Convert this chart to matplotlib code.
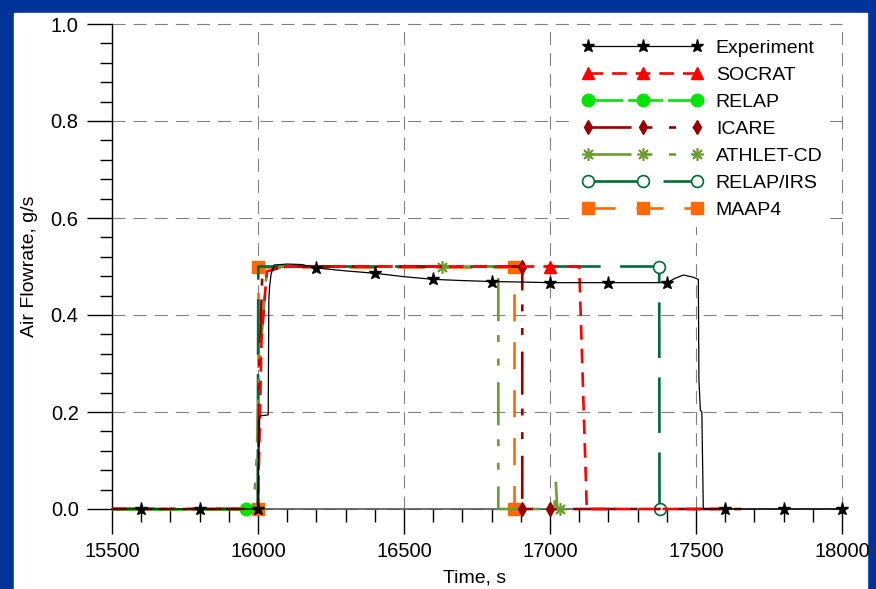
import matplotlib
matplotlib.use("Agg")
import matplotlib.pyplot as plt
from matplotlib.lines import Line2D
from matplotlib.patches import Rectangle

plt.rcParams['font.family'] = ['Liberation Sans', 'DejaVu Sans']
plt.rcParams['font.size'] = 14
plt.rcParams['lines.scale_dashes'] = False

# Experiment (black line, star every 200 s)
exp_t = [15500, 15600, 15800, 16000, 16004, 16006, 16035, 16037, 16040, 16045, 16055,
         16100, 16150, 16200, 16300, 16400, 16500, 16600, 16700, 16800, 16900, 17000,
         17100, 17200, 17300, 17400, 17430, 17457, 17490, 17508, 17510, 17515, 17520,
         17525, 17600, 17800, 18000]
exp_y = [0, 0, 0, 0, 0.19, 0.192, 0.194, 0.43, 0.46, 0.485, 0.503,
         0.505, 0.504, 0.497, 0.491, 0.486, 0.479, 0.4735, 0.471, 0.469, 0.468, 0.4667,
         0.4667, 0.4667, 0.4667, 0.4667, 0.476, 0.4825, 0.478, 0.4735, 0.266, 0.204, 0.2,
         0, 0, 0, 0]
exp_marks = [1, 2, 3, 13, 15, 17, 19, 21, 23, 25, 34, 35, 36]

# SOCRAT
soc_t = [15500, 16000, 16012, 16030, 16100, 17000, 17100, 17126, 17590]
soc_y = [0, 0, 0.35, 0.49, 0.5, 0.5, 0.5, 0, 0]
soc_marks = [5]

# RELAP
rel_t = [15500, 15958]
rel_y = [0, 0]
rel_marks = [1]

# ICARE
ica_t = [15500, 16000, 16005, 16015, 16100, 16905, 16905, 17000, 17690]
ica_y = [0, 0, 0.3, 0.49, 0.5, 0.5, 0, 0, 0]
ica_marks = [5, 6, 7]

# ATHLET-CD
ath_t = [15500, 15985, 15995, 16005, 16030, 16045, 16630, 16823, 16823, 17015, 17020,
         17025, 17034]
ath_y = [0, 0, 0.1, 0.3, 0.49, 0.5, 0.5, 0.5, 0, 0, 0.054, 0, 0]
ath_marks = [6, 12]

# RELAP/IRS
irs_t = [15500, 15999, 16001, 17374, 17375]
irs_y = [0, 0, 0.5, 0.5, 0]
irs_marks = [3, 4]

# MAAP4
maap_t = [15500, 16000, 16000, 16875, 16875]
maap_y = [0, 0, 0.5, 0.5, 0]
maap_marks = [1, 2, 3, 4]

fig = plt.figure(figsize=(8.76, 5.89), dpi=100, facecolor='#003399')
# white slide panel behind the chart
fig.patches.append(Rectangle((14 / 876, 0), (867 - 14) / 876, (589 - 13) / 589,
                             transform=fig.transFigure, color='white', zorder=-1))
ax = fig.add_axes([112 / 876, 80 / 589, 730 / 876, 485 / 589])
ax.set_facecolor('white')

styles = [
    ("Experiment", exp_t, exp_y, exp_marks,
     dict(color='black', lw=0.9, linestyle='-', marker='*', ms=9.5, mfc='black', mec='black'), 10),
    ("SOCRAT", soc_t, soc_y, soc_marks,
     dict(color='#FF0000', lw=1.9, linestyle=(0, (10.5, 6.5)), marker='^', ms=9,
          mfc='#FF0000', mec='#FF0000'), 7),
    ("RELAP", rel_t, rel_y, rel_marks,
     dict(color='#00E400', lw=1.9, linestyle=(0, (25, 3.6)), marker='o', ms=9,
          mfc='#00E400', mec='#00E400'), 6),
    ("ICARE", ica_t, ica_y, ica_marks,
     dict(color='#990000', lw=1.9, linestyle=(0, (31, 10, 5, 12, 5, 12)), marker='d', ms=7.5,
          mfc='#990000', mec='#990000'), 5),
    ("ATHLET-CD", ath_t, ath_y, ath_marks,
     dict(color='#6B9E30', lw=1.9, linestyle=(0, (31, 10, 5, 12, 5, 12)), marker=(8, 2, 0),
          ms=9, mfc='#6B9E30', mec='#6B9E30', mew=1.2), 4),
    ("RELAP/IRS", irs_t, irs_y, irs_marks,
     dict(color='#006B38', lw=1.9, linestyle=(0, (40, 14)), marker='o', ms=8.5,
          mfc='white', mec='#006B38', mew=1.2), 3),
    ("MAAP4", maap_t, maap_y, maap_marks,
     dict(color='#FF6A00', lw=1.9, linestyle=(0, (19.5, 15)), marker='s', ms=9,
          mfc='#FF6A00', mec='#FF6A00'), 2),
]

handles = []
for name, t, y, marks, st, z in styles:
    ax.plot(t, y, markevery=marks, zorder=z, clip_on=False, **st)
    handles.append(Line2D([], [], label=name, **st))

ax.set_xlim(15500, 18000)
ax.set_ylim(0, 1.0)
ax.set_xticks([15500, 16000, 16500, 17000, 17500, 18000])
ax.set_xticks(range(15500, 18001, 100), minor=True)
ax.set_yticks([0.0, 0.2, 0.4, 0.6, 0.8, 1.0])
ax.set_yticks([i * 0.04 for i in range(26)], minor=True)
ax.set_yticklabels(["0.0", "0.2", "0.4", "0.6", "0.8", "1.0"])

ax.tick_params(which='major', direction='out', length=18, width=1.0, pad=6, labelsize=14.5)
ax.tick_params(which='minor', direction='out', length=9, width=1.0)

for s in ['top', 'right']:
    ax.spines[s].set_visible(False)
ax.spines['left'].set_linewidth(1.0)
ax.spines['bottom'].set_color('#555555')
ax.spines['bottom'].set_linewidth(1.2)

ax.grid(True, which='major', color='#808080', lw=0.8, linestyle=(0, (9.4, 5.8)))
for gl in ax.get_xgridlines() + ax.get_ygridlines():
    gl.set_clip_on(False)

ax.set_ylabel("Air Flowrate, g/s", fontsize=14)
ax.yaxis.set_label_coords(-0.101, 0.5)
ax.set_xlabel("Time, s", fontsize=14, va='center')
ax.xaxis.set_label_coords(0.497, -0.142)

leg = ax.legend(handles=handles, loc='upper left', bbox_to_anchor=(0.634, 0.984),
                numpoints=3, handlelength=6.2, handletextpad=0.65, labelspacing=0.48,
                borderaxespad=0, borderpad=0.4, frameon=True, fancybox=False,
                edgecolor='none', facecolor='white', framealpha=1, fontsize=14)
leg.set_zorder(20)

plt.savefig("out.png", dpi=100, facecolor=fig.get_facecolor())
